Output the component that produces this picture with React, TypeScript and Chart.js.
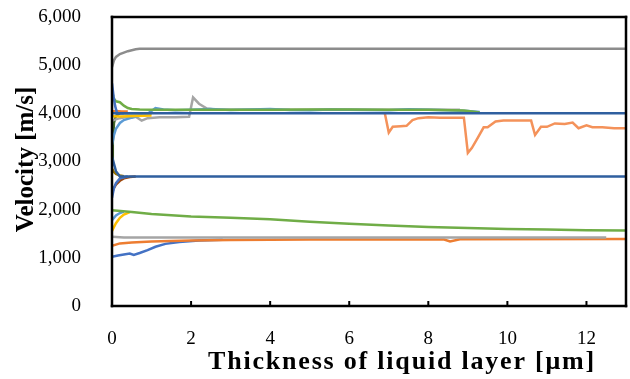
import React, { useEffect, useRef } from "react";
import { Chart, registerables } from "chart.js";

Chart.register(...registerables);

// ---- axis ----
const xMin = 0;
const xMax = 13;
const xStep = 2;
const yMin = 0;
const yMax = 6000;
const yStep = 1000;
const xTitle = "Thickness of liquid layer [μm]";
const yTitle = "Velocity [m/s]";

// ---- series (x in μm, y in m/s) ----
const grayTopX = [0, 0.05, 0.1, 0.15, 0.2, 0.3, 0.4, 0.5, 0.6, 0.7, 1, 13];
const grayTopY = [4960, 5100, 5170, 5200, 5230, 5260, 5290, 5310, 5330, 5340, 5340, 5340];

const blueDropX = [0, 0.04, 0.08, 0.13, 0.3];
const blueDropY = [4620, 4350, 4150, 4000, 4000];

const blueFlatUpX = [0, 0.5, 13];
const blueFlatUpY = [4000, 4000, 4000];

const greenUpX = [0, 0.05, 0.1, 0.2, 0.3, 0.4, 0.5, 0.7, 1, 2, 3, 4, 5, 6, 7, 8, 8.9, 9.3];
const greenUpY = [4450, 4300, 4250, 4230, 4160, 4110, 4090, 4080, 4075, 4075, 4075, 4075, 4078, 4078, 4075, 4072, 4060, 4020];

const lightBlueUpX = [0, 0.05, 0.1, 0.2, 0.3, 0.5, 0.7, 0.9, 1.1, 1.3, 1.6, 2, 2.5, 3, 3.5, 4, 4.5, 5, 5.5, 6, 6.5, 7, 7.5, 8, 8.5, 9, 9.3];
const lightBlueUpY = [3350, 3550, 3680, 3800, 3860, 3910, 3950, 3990, 4110, 4080, 4065, 4075, 4088, 4070, 4082, 4092, 4070, 4062, 4082, 4076, 4068, 4062, 4086, 4076, 4062, 4050, 4030];

const grayMidX = [0, 0.2, 0.4, 0.6, 0.75, 0.9, 1.2, 1.6, 1.95, 2.05, 2.2, 2.4, 2.6, 3, 8.8];
const grayMidY = [3850, 3900, 3930, 3930, 3850, 3900, 3920, 3920, 3930, 4330, 4200, 4100, 4080, 4075, 4075];

const orangeUpX = [6.9, 7.0, 7.1, 7.3, 7.45, 7.6, 7.75, 8.0, 8.3, 8.9, 9.0, 9.1, 9.25, 9.4, 9.5, 9.7, 9.9, 10.6, 10.7, 10.85, 11.0, 11.2, 11.45, 11.65, 11.8, 12.0, 12.15, 12.4, 12.7, 13];
const orangeUpY = [4000, 3600, 3720, 3730, 3740, 3860, 3900, 3920, 3910, 3910, 3180, 3280, 3490, 3710, 3710, 3830, 3850, 3850, 3550, 3720, 3720, 3790, 3780, 3810, 3690, 3750, 3710, 3710, 3690, 3690];

const redOrangeUpX = [0, 0.1, 0.25, 0.4];
const redOrangeUpY = [4040, 4050, 4040, 4040];

const yellowUpX = [0, 0.2, 0.4, 0.6, 0.8, 1.0];
const yellowUpY = [3940, 3935, 3940, 3945, 3950, 3955];

const darkGreenX = [0, 0.02, 0.05, 0.1, 0.2, 0.5, 1.0];
const darkGreenY = [2950, 3400, 3800, 3950, 4000, 4000, 4000];

const blueFlatLowX = [0, 0.05, 0.1, 0.2, 13];
const blueFlatLowY = [3100, 2950, 2800, 2690, 2690];

const blueRiseMidX = [0, 0.05, 0.1, 0.2, 0.4];
const blueRiseMidY = [2250, 2450, 2550, 2650, 2690];

const brownX = [0, 0.05, 0.1, 0.2, 0.3, 0.45, 0.6];
const brownY = [2350, 2450, 2520, 2600, 2650, 2680, 2690];

const oliveX = [0, 0.05, 0.1, 0.2, 0.3];
const oliveY = [2850, 2780, 2740, 2710, 2695];

const greenLowX = [0, 0.5, 1, 2, 3, 4, 5, 6, 7, 8, 9, 10, 11, 12, 13];
const greenLowY = [1990, 1950, 1910, 1860, 1830, 1800, 1750, 1710, 1670, 1640, 1620, 1600, 1590, 1575, 1565];

const grayLowX = [0, 0.3, 12.5];
const grayLowY = [1440, 1420, 1420];

const orangeLowX = [0, 0.2, 0.5, 1, 1.5, 2, 3, 5, 8.4, 8.55, 8.8, 13];
const orangeLowY = [1250, 1300, 1320, 1340, 1350, 1360, 1370, 1380, 1380, 1340, 1385, 1390];

const blueLowX = [0, 0.15, 0.3, 0.45, 0.55, 0.7, 0.9, 1.1, 1.35, 1.7, 2.2, 2.8];
const blueLowY = [1020, 1050, 1070, 1090, 1060, 1100, 1160, 1230, 1290, 1330, 1360, 1375];

const yellowLowX = [0, 0.1, 0.2, 0.3, 0.45];
const yellowLowY = [1560, 1720, 1830, 1900, 1950];

const lightBlueLowX = [0, 0.1, 0.2, 0.3];
const lightBlueLowY = [1780, 1880, 1930, 1960];

const pts = (xs: number[], ys: number[]) => xs.map((x, i) => ({ x, y: ys[i] }));

const FONT = "'Liberation Serif', 'Times New Roman', serif";

export default function App() {
  const ref = useRef<HTMLCanvasElement | null>(null);

  useEffect(() => {
    document.body.style.margin = "0";
    const canvas = ref.current;
    if (!canvas) return;

    const series = [
      { d: pts(blueFlatUpX, blueFlatUpY), c: "#2F5F9F", o: 0 },
      { d: pts(blueFlatLowX, blueFlatLowY), c: "#2F5F9F", o: 0 },
      { d: pts(orangeUpX, orangeUpY), c: "#F4925A", o: 1 },
      { d: pts(greenUpX, greenUpY), c: "#70AD47", o: 2 },
      { d: pts(lightBlueUpX, lightBlueUpY), c: "#5B9BD5", o: 3 },
      { d: pts(grayMidX, grayMidY), c: "#A5A5A5", o: 4 },
      { d: pts(blueDropX, blueDropY), c: "#4472C4", o: 1 },
      { d: pts(redOrangeUpX, redOrangeUpY), c: "#ED7D31", o: 2 },
      { d: pts(yellowUpX, yellowUpY), c: "#FFC000", o: 2 },
      { d: pts(darkGreenX, darkGreenY), c: "#43682B", o: 5 },
      { d: pts(grayTopX, grayTopY), c: "#8C8C8C", o: 1 },
      { d: pts(blueRiseMidX, blueRiseMidY), c: "#4472C4", o: 2 },
      { d: pts(brownX, brownY), c: "#9E480E", o: 2 },
      { d: pts(oliveX, oliveY), c: "#997300", o: 3 },
      { d: pts(greenLowX, greenLowY), c: "#70AD47", o: 1 },
      { d: pts(grayLowX, grayLowY), c: "#A5A5A5", o: 1 },
      { d: pts(orangeLowX, orangeLowY), c: "#ED7D31", o: 2 },
      { d: pts(blueLowX, blueLowY), c: "#4472C4", o: 3 },
      { d: pts(yellowLowX, yellowLowY), c: "#FFC000", o: 3 },
      { d: pts(lightBlueLowX, lightBlueLowY), c: "#5B9BD5", o: 2 },
    ];

    const framePlugin = {
      id: "frameBox",
      afterDraw(chart: any) {
        const ctx: CanvasRenderingContext2D = chart.ctx;
        const a = chart.chartArea;
        const xs = chart.scales.x;
        ctx.save();
        ctx.fillStyle = "#000";
        ctx.fillRect(a.left - 1.25, a.top - 1.25, a.right - a.left + 2.5, 2.5);
        ctx.fillRect(a.left - 1.25, a.bottom - 1.25, a.right - a.left + 2.5, 2.5);
        ctx.fillRect(a.left - 1.25, a.top - 1.25, 2.5, a.bottom - a.top + 2.5);
        ctx.fillRect(a.right - 1.25, a.top - 1.25, 2.5, a.bottom - a.top + 2.5);
        xs.ticks.forEach((t: any) => {
          const px = xs.getPixelForValue(t.value);
          if (px > a.left + 1) ctx.fillRect(px - 1, a.bottom - 5, 2, 5);
        });
        ctx.fillStyle = "#000";
        ctx.font = `bold 26px ${FONT}`;
        (ctx as any).letterSpacing = "1.8px";
        ctx.textAlign = "center";
        ctx.textBaseline = "alphabetic";
        ctx.fillText(xTitle, 402, 369);
        (ctx as any).letterSpacing = "0px";
        ctx.font = `bold 25px ${FONT}`;
        ctx.translate(33, (a.top + a.bottom) / 2 - 2);
        ctx.rotate(-Math.PI / 2);
        ctx.fillText(yTitle, 0, 0);
        ctx.restore();
      },
    };

    const chart = new Chart(canvas, {
      type: "line",
      data: {
        datasets: series.map((s) => ({
          data: s.d,
          borderColor: s.c,
          backgroundColor: s.c,
          borderWidth: 2.5,
          pointRadius: 0,
          tension: 0,
          fill: false,
          order: s.o,
        })),
      },
      options: {
        animation: false,
        responsive: false,
        layout: { padding: { top: 17, right: 4, left: 0, bottom: 0 } },
        plugins: { legend: { display: false }, tooltip: { enabled: false } },
        scales: {
          x: {
            type: "linear",
            min: xMin,
            max: xMax,
            ticks: {
              stepSize: xStep,
              includeBounds: false,
              color: "#000",
              font: { family: FONT, size: 19 },
              padding: 14,
              maxRotation: 0,
            },
            grid: { display: false },
            afterFit: (s: any) => {
              s.height = 73;
              s.paddingLeft = 0;
              s.paddingRight = 0;
            },
          },
          y: {
            type: "linear",
            min: yMin,
            max: yMax,
            ticks: {
              stepSize: yStep,
              color: "#000",
              font: { family: FONT, size: 19 },
              padding: 23,
              callback: (v: any) => Number(v).toLocaleString("en-US"),
            },
            grid: { display: false },
            afterFit: (s: any) => {
              s.width = 112;
              s.paddingTop = 0;
              s.paddingBottom = 0;
            },
          },
        },
      },
      plugins: [framePlugin],
    });

    return () => chart.destroy();
  }, []);

  return (
    <div style={{ width: 630, height: 379, background: "#fff" }}>
      <canvas ref={ref} width={630} height={379} />
    </div>
  );
}
